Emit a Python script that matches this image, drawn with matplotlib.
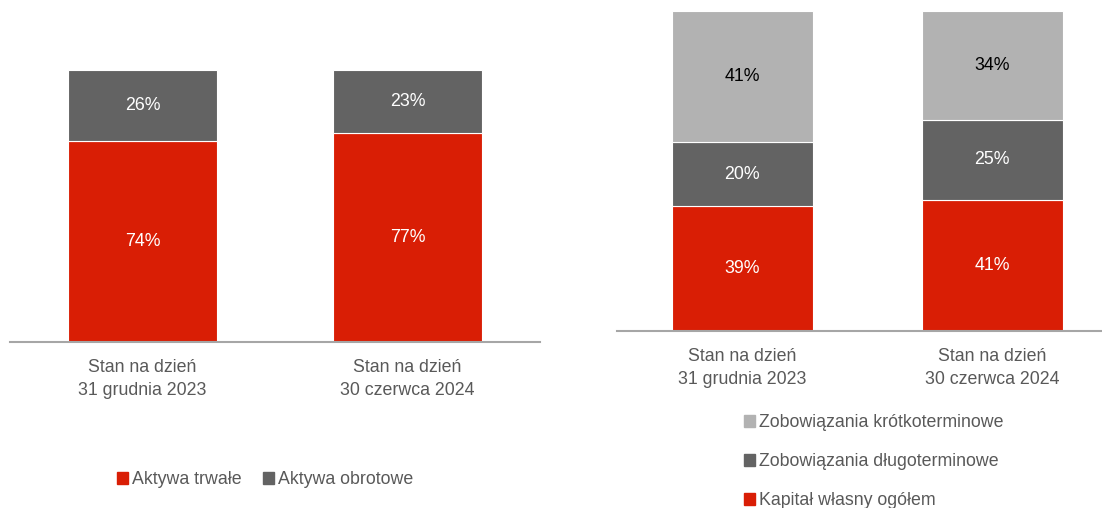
import matplotlib.pyplot as plt
from matplotlib.patches import Patch

plt.rcParams['font.family'] = ['Liberation Sans Narrow', 'Liberation Sans', 'DejaVu Sans']

# dates on both charts
okresy = ["Stan na dzień\n31 grudnia 2023", "Stan na dzień\n30 czerwca 2024"]

# struktura aktywów (%)
aktywa_trwale = [74, 77]
aktywa_obrotowe = [26, 23]

# struktura pasywów (%)
kapital_wlasny = [39, 41]
zob_dlugo = [20, 25]
zob_krotko = [41, 34]

RED = '#d91e05'
DARK = '#636363'
LIGHT = '#b2b2b2'
TXT = '#595959'
AXC = '#a6a6a6'
FS = 12.8

fig = plt.figure(figsize=(11.02, 5.08), dpi=100)
W, H = 1102, 508


def make_axes(x0, x1, ybase, ytop):
    ax = fig.add_axes([x0 / W, (H - ybase) / H, (x1 - x0) / W, (ybase - ytop) / H])
    for s in ['top', 'right', 'left']:
        ax.spines[s].set_visible(False)
    ax.spines['bottom'].set_color(AXC)
    ax.spines['bottom'].set_linewidth(1.5)
    ax.set_yticks([])
    ax.set_ylim(0, 100)
    ax.tick_params(axis='x', length=0, pad=12, labelsize=FS, labelcolor=TXT)
    return ax


def stack(ax, series, colors, txtcolors, width):
    x = list(range(len(okresy)))
    bottom = [0] * len(x)
    for vals, c, tc in zip(series, colors, txtcolors):
        ax.bar(x, vals, width, bottom=bottom, color=c, edgecolor='white', linewidth=0.8)
        for i, v in enumerate(vals):
            ax.text(x[i], bottom[i] + v / 2, f"{v}%", ha='center', va='center',
                    color=tc, fontsize=FS)
        bottom = [b + v for b, v in zip(bottom, vals)]
    ax.set_xticks(x)
    ax.set_xticklabels(okresy, linespacing=1.5)


# lewy wykres - aktywa
ax1 = make_axes(10, 540, 342, 70)
stack(ax1, [aktywa_trwale, aktywa_obrotowe], [RED, DARK], ['white', 'white'], 0.56)
ax1.set_xlim(-0.5, 1.5)

# prawy wykres - pasywa
ax2 = make_axes(617, 1102, 331, 11)
stack(ax2, [kapital_wlasny, zob_dlugo, zob_krotko], [RED, DARK, LIGHT],
      ['white', 'white', 'black'], 0.564)
ax2.set_xlim(-0.5, 1.44)

leg1 = fig.legend(handles=[Patch(color=RED, label='Aktywa trwałe'),
                           Patch(color=DARK, label='Aktywa obrotowe')],
                  loc='center', bbox_to_anchor=(265 / W, 1 - 480 / H), ncol=2,
                  frameon=False, fontsize=FS, handlelength=0.65, handleheight=0.65,
                  handletextpad=0.2, columnspacing=1.2)
for t in leg1.get_texts():
    t.set_color(TXT)

leg2 = fig.legend(handles=[Patch(color=LIGHT, label='Zobowiązania krótkoterminowe'),
                           Patch(color=DARK, label='Zobowiązania długoterminowe'),
                           Patch(color=RED, label='Kapitał własny ogółem')],
                  loc='upper left', bbox_to_anchor=(735 / W, 1 - 405 / H), ncol=1,
                  frameon=False, fontsize=FS, handlelength=0.65, handleheight=0.65,
                  handletextpad=0.2, labelspacing=1.25, borderpad=0)
for t in leg2.get_texts():
    t.set_color(TXT)

fig.savefig('out.png', dpi=100)
